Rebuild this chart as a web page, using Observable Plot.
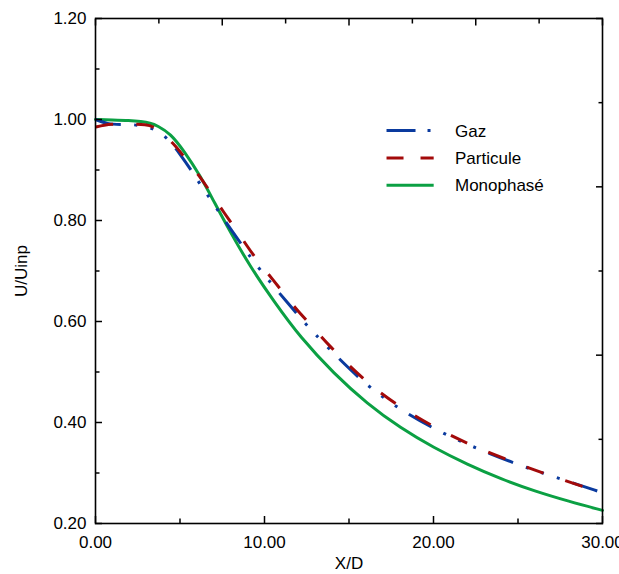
<!DOCTYPE html>
<html>
<head>
<meta charset="utf-8">
<script src="https://cdn.jsdelivr.net/npm/d3@7"></script>
<script src="https://cdn.jsdelivr.net/npm/@observablehq/plot@0.6"></script>
<style>
  html, body { margin: 0; padding: 0; background: #fff; }
  #chart { width: 619px; height: 574px; overflow: hidden; }
</style>
</head>
<body>
<div id="chart"></div>
<script>
// ---- Data ----
const seriesNames = ["Gaz", "Particule", "Monophasé"];
const seriesColors = ["#0a3a9e", "#a30a0a", "#0ba043"];

const xGaz = [0, 0.7, 1.5, 2.5, 3.55, 4.34, 4.93, 5.82, 6.31, 6.9, 7.43, 7.99, 8.88, 9.47, 10.06, 11.34, 12.33, 13.02, 14, 16, 18, 20, 22, 25, 27, 30];
const yGaz = [1.0, 0.991, 0.99, 0.99, 0.982, 0.960, 0.935, 0.892, 0.865, 0.838, 0.81, 0.784, 0.741, 0.714, 0.689, 0.638, 0.599, 0.574, 0.540, 0.474, 0.426, 0.388, 0.356, 0.316, 0.294, 0.261];

const xPart = [0, 0.5, 1.1, 2, 3.0, 3.5, 4.63, 5.33, 6.21, 6.8, 7.59, 8.22, 8.97, 9.66, 10.55, 11.24, 12.09, 12.88, 13.7, 16.08, 18.05, 20.02, 22.0, 24.95, 26.9, 30];
const yPart = [0.985, 0.989, 0.991, 0.991, 0.990, 0.986, 0.953, 0.922, 0.886, 0.856, 0.816, 0.787, 0.749, 0.717, 0.681, 0.651, 0.616, 0.589, 0.556, 0.477, 0.430, 0.391, 0.358, 0.318, 0.295, 0.260];

const xMono = [0, 1, 2, 2.7, 3.25, 3.65, 4.44, 5.23, 6.21, 7.0, 7.99, 9.17, 10.55, 12.13, 14.1, 16.08, 18.05, 20.02, 22.0, 24.0, 26.0, 28.0, 30];
const yMono = [1.0, 0.999, 0.998, 0.996, 0.993, 0.988, 0.972, 0.938, 0.888, 0.838, 0.776, 0.708, 0.640, 0.568, 0.497, 0.437, 0.389, 0.350, 0.317, 0.288, 0.264, 0.244, 0.226];

// ---- Axis ticks ----
const xDomain = [0, 30];
const yDomain = [0.2, 1.2];
const xMajor = [0, 10, 20, 30];
const xMinor = [5, 15, 25];
const yMajor = [0.2, 0.4, 0.6, 0.8, 1.0, 1.2];
const yMinor = [0.3, 0.5, 0.7, 0.9, 1.1];
const topMajor = [0, 7.5, 15, 22.5, 30];
const topMinor = [3.75, 11.25, 18.75, 26.25];
const rightMajor = [0.2, 0.2 + 2/6, 0.2 + 4/6, 1.2];
const rightMinor = [0.2 + 1/6, 0.2 + 3/6, 0.2 + 5/6];
const xLabel = "X/D";
const yLabel = "U/Uinp";

const toRows = (xs, ys) => xs.map((x, i) => ({x, y: ys[i]}));
const gaz = toRows(xGaz, yGaz);
const part = toRows(xPart, yPart);
const mono = toRows(xMono, yMono);

const fmt = d3.format(".2f");
const blank = () => "";
const fontSize = 17;
const tickStroke = 1.5;
const fontFamily = "'Liberation Sans', Arial, sans-serif";

const chart = Plot.plot({
  width: 619,
  height: 574,
  marginLeft: 95,
  marginRight: 17,
  marginTop: 18,
  marginBottom: 51,
  style: {fontFamily, fontSize: fontSize + "px", color: "#000", background: "#fff"},
  x: {domain: xDomain},
  y: {domain: yDomain},
  marks: [
    Plot.line(mono, {x: "x", y: "y", stroke: seriesColors[2], strokeWidth: 3, curve: "basis"}),
    Plot.line(gaz, {x: "x", y: "y", stroke: seriesColors[0], strokeWidth: 3, curve: "basis",
      strokeDasharray: "26,13.5,3,13.5,3,13.5,3,13.5", strokeLinecap: "butt"}),
    Plot.line(part, {x: "x", y: "y", stroke: seriesColors[1], strokeWidth: 3, curve: "basis",
      strokeDasharray: "18,23", strokeLinecap: "butt"}),
    Plot.frame({stroke: "#000", strokeWidth: 1.6}),
    // bottom
    Plot.axisX({anchor: "bottom", ticks: xMajor, tickSize: -7, tickFormat: blank, strokeWidth: tickStroke, label: null}),
    Plot.axisX({anchor: "bottom", ticks: xMinor, tickSize: -4.5, tickFormat: blank, strokeWidth: tickStroke, label: null}),
    Plot.axisX({anchor: "bottom", ticks: xMajor, tickSize: 0, tickPadding: 12, tickFormat: fmt, label: null}),
    // top
    Plot.axisX({anchor: "top", ticks: topMajor, tickSize: -6.5, tickFormat: blank, strokeWidth: tickStroke, label: null}),
    Plot.axisX({anchor: "top", ticks: topMinor, tickSize: -4.5, tickFormat: blank, strokeWidth: tickStroke, label: null}),
    // left
    Plot.axisY({anchor: "left", ticks: yMajor, tickSize: -7, tickFormat: blank, strokeWidth: tickStroke, label: null}),
    Plot.axisY({anchor: "left", ticks: yMinor, tickSize: -4.5, tickFormat: blank, strokeWidth: tickStroke, label: null}),
    Plot.axisY({anchor: "left", ticks: yMajor, tickSize: 0, tickPadding: 9, tickFormat: fmt, label: null}),
    // right
    Plot.axisY({anchor: "right", ticks: rightMajor, tickSize: -7, tickFormat: blank, strokeWidth: tickStroke, label: null}),
    Plot.axisY({anchor: "right", ticks: rightMinor, tickSize: -4.5, tickFormat: blank, strokeWidth: tickStroke, label: null}),
    // axis titles
    Plot.text([xLabel], {frameAnchor: "bottom", dy: 40, text: d => d, fontSize: fontSize, lineAnchor: "middle", textAnchor: "middle"}),
    Plot.text([yLabel], {frameAnchor: "left", dx: -74, text: d => d, fontSize: fontSize, rotate: -90, lineAnchor: "middle", textAnchor: "middle"})
  ]
});

// ---- Legend (inside the plot area, upper right) ----
const legendDash = ["29,12,3,12", "17,17", null];
const svg = d3.select(chart);
const W = 619, H = 574, mL = 95, mR = 17, mT = 18, mB = 51;
const pw = W - mL - mR, ph = H - mT - mB;
const lx0 = mL + pw * 0.575, lx1 = mL + pw * 0.668, tx = mL + pw * 0.710;
const ly0 = mT + ph * 0.223, lstep = ph * 0.054;
const lg = svg.append("g").attr("class", "legend");
seriesNames.forEach((name, i) => {
  const y = ly0 + i * lstep;
  const line = lg.append("line")
    .attr("x1", lx0).attr("x2", lx1).attr("y1", y).attr("y2", y)
    .attr("stroke", seriesColors[i]).attr("stroke-width", 3);
  if (legendDash[i]) line.attr("stroke-dasharray", legendDash[i]);
  lg.append("text").attr("x", tx).attr("y", y).attr("dy", "0.35em")
    .attr("text-anchor", "start")
    .attr("font-size", fontSize).attr("fill", "#000")
    .attr("font-family", fontFamily)
    .text(name);
});

document.getElementById("chart").appendChild(chart);
</script>
</body>
</html>
